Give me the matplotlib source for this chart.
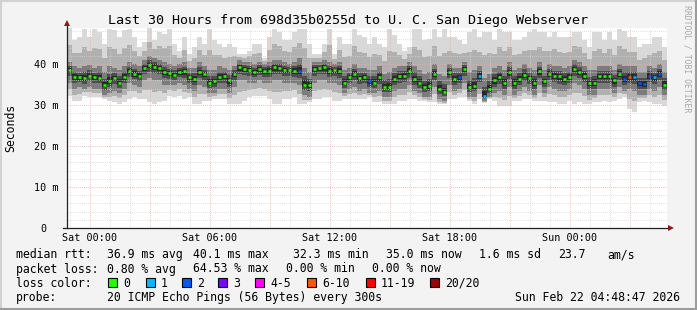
import numpy as np
import matplotlib
matplotlib.use('Agg')
import matplotlib.pyplot as plt
from matplotlib.patches import Rectangle
from matplotlib.lines import Line2D

W, H, DPI = 697, 310, 100
plt.rcParams['font.family'] = ['DejaVu Sans Mono']

# time in hours relative to Sat 00:00, 15 minute samples from Fri 22:51
t_start = -1.15
step = 0.25

median = [38.5, 36.8, 36.8, 36.5, 37.2, 36.8, 36.6, 34.9, 35.8, 36.6,
          35.5, 36.8, 38.2, 37.6, 37.2, 39.0, 39.8, 39.4, 39.0, 38.0,
          37.7, 37.4, 38.0, 38.2, 36.8, 36.4, 38.0, 37.6, 35.5, 35.8,
          36.8, 37.0, 36.0, 37.6, 39.2, 38.8, 38.5, 38.0, 38.8, 38.4,
          38.4, 39.2, 39.0, 38.5, 38.5, 38.4, 38.4, 35.0, 34.8, 38.8,
          39.0, 39.2, 38.4, 38.5, 38.4, 35.5, 36.8, 37.6, 36.6, 36.8,
          35.8, 35.5, 36.8, 34.5, 34.5, 36.4, 37.0, 37.2, 38.4, 36.4,
          35.5, 34.3, 34.7, 37.6, 34.0, 33.2, 38.0, 36.4, 36.8, 38.8,
          34.3, 34.7, 37.2, 32.3, 34.0, 36.0, 36.8, 35.5, 38.0, 35.5,
          36.4, 37.4, 36.6, 35.5, 38.2, 35.8, 37.6, 37.2, 37.0, 36.4,
          36.8, 38.8, 38.0, 37.2, 35.3, 35.5, 37.0, 37.0, 37.0, 36.0,
          37.6, 36.4, 36.8, 36.8, 35.3, 35.1, 37.2, 36.8, 37.6, 35.0]

ping_max = [48.8, 45.8, 46.6, 48.6, 46.6, 48.6, 47.8, 45.0, 48.6, 48.2,
            46.6, 48.2, 48.6, 46.6, 44.2, 45.4, 48.8, 45.8, 47.8, 47.4,
            48.6, 45.0, 43.2, 46.6, 42.4, 44.2, 46.6, 45.0, 48.6, 45.8,
            45.0, 44.2, 45.0, 44.2, 42.4, 42.4, 43.2, 45.0, 45.0, 41.6,
            46.6, 48.6, 47.8, 45.8, 45.8, 47.8, 48.6, 48.6, 45.0, 42.4,
            42.4, 45.0, 48.6, 42.4, 46.6, 45.0, 45.0, 48.6, 47.0, 46.6,
            45.0, 46.6, 45.0, 44.2, 48.6, 47.0, 45.0, 43.2, 44.2, 48.6,
            48.6, 45.8, 46.0, 48.6, 46.6, 48.6, 46.6, 46.6, 45.8, 45.0,
            47.8, 48.6, 46.6, 47.8, 47.8, 45.8, 48.6, 47.8, 47.8, 45.8,
            45.8, 46.6, 47.8, 48.6, 47.8, 47.8, 46.6, 47.8, 46.6, 46.6,
            46.6, 47.8, 47.8, 45.8, 44.2, 47.8, 47.8, 45.8, 47.8, 45.8,
            48.6, 48.0, 46.6, 46.6, 44.2, 45.0, 45.0, 46.6, 46.6, 44.2]

ping_min = [32.3, 31.1, 31.1, 32.3, 31.9, 31.9, 31.9, 31.5, 31.1, 30.7,
            30.2, 30.7, 31.5, 31.9, 31.5, 31.5, 30.7, 30.2, 30.7, 31.1,
            32.3, 31.9, 32.3, 31.5, 31.9, 30.2, 30.2, 31.1, 31.1, 31.5,
            31.5, 31.5, 30.2, 30.2, 30.2, 31.1, 31.9, 32.3, 32.3, 32.3,
            31.5, 30.2, 30.2, 31.5, 31.5, 31.9, 30.2, 30.2, 30.7, 31.5,
            31.5, 31.9, 31.9, 31.1, 31.1, 31.5, 31.5, 31.5, 31.5, 31.5,
            31.9, 30.7, 30.7, 30.2, 30.2, 30.2, 31.1, 31.1, 31.5, 31.5,
            31.1, 31.1, 30.7, 30.7, 30.2, 30.2, 31.5, 31.5, 31.9, 31.9,
            31.1, 30.2, 31.5, 30.5, 31.5, 31.1, 29.8, 29.8, 29.8, 31.1,
            31.1, 31.5, 31.5, 31.1, 31.1, 31.1, 30.7, 30.7, 30.2, 30.2,
            31.1, 30.2, 30.7, 30.2, 30.2, 30.7, 30.7, 31.1, 30.7, 31.1,
            31.5, 31.9, 29.0, 28.4, 30.7, 31.1, 30.7, 30.2, 30.2, 29.8]

# upper / lower quartile of the 20 pings
ping_q3 = [40.5, 39.5, 39.0, 39.5, 39.8, 39.0, 39.5, 38.0, 39.5, 39.0,
           38.5, 39.5, 40.5, 40.0, 39.5, 41.0, 42.0, 41.5, 41.0, 40.5,
           40.0, 39.5, 40.0, 40.5, 39.0, 39.0, 40.5, 39.5, 38.5, 38.5,
           39.5, 39.0, 38.5, 39.5, 41.0, 40.5, 40.5, 40.0, 40.5, 40.0,
           40.5, 41.0, 41.0, 40.5, 40.0, 40.5, 41.5, 39.0, 38.0, 40.5,
           40.5, 41.0, 40.5, 40.0, 40.5, 38.5, 39.0, 40.0, 39.0, 39.0,
           38.5, 38.5, 39.5, 37.5, 38.0, 39.0, 39.5, 39.5, 40.5, 39.5,
           38.5, 37.5, 38.0, 40.0, 37.5, 37.0, 40.0, 39.0, 39.0, 40.5,
           38.0, 38.5, 39.5, 36.5, 37.5, 39.0, 39.5, 38.5, 40.5, 38.5,
           39.0, 40.0, 39.0, 38.5, 40.5, 38.5, 40.0, 39.5, 39.5, 39.0,
           39.5, 41.0, 40.5, 39.5, 38.5, 38.5, 39.5, 39.5, 39.5, 38.5,
           40.0, 39.5, 39.5, 39.5, 38.0, 38.0, 39.5, 39.0, 40.0, 38.0]

ping_q1 = [35.5, 34.0, 34.5, 34.0, 34.5, 34.0, 34.0, 32.5, 33.0, 33.5,
           33.0, 34.0, 35.5, 35.0, 34.5, 36.0, 36.5, 36.0, 36.0, 35.0,
           35.0, 35.0, 35.5, 35.0, 34.0, 33.5, 35.0, 34.5, 33.0, 33.0,
           34.0, 34.0, 33.0, 34.5, 36.0, 36.0, 35.5, 35.5, 36.0, 35.5,
           35.5, 36.0, 36.0, 35.5, 35.5, 35.5, 35.0, 32.5, 32.0, 35.5,
           36.0, 36.0, 35.5, 35.5, 35.0, 33.0, 34.0, 34.5, 33.5, 34.0,
           33.0, 33.0, 33.5, 32.0, 32.0, 33.5, 34.0, 34.0, 35.0, 33.5,
           33.0, 32.0, 32.0, 34.5, 31.5, 31.0, 35.0, 33.5, 34.0, 35.5,
           32.0, 32.0, 34.0, 31.0, 32.0, 33.0, 33.5, 32.5, 34.5, 32.5,
           33.5, 34.5, 33.5, 32.5, 35.0, 33.0, 34.5, 34.0, 33.5, 33.5,
           34.0, 35.5, 35.0, 34.0, 32.5, 32.5, 34.0, 34.0, 34.0, 33.0,
           34.5, 33.5, 34.0, 33.5, 32.5, 32.5, 34.0, 33.5, 34.5, 32.5]

# loss class index per sample (0 = no loss, 1 = 1 lost, 2 = 2 lost, 5 = 6-10)
loss = [0, 0, 0, 0, 0, 0, 0, 0, 0, 0, 0, 0, 0, 0, 0, 0, 0, 0, 0, 0,
        0, 0, 0, 0, 0, 0, 0, 0, 0, 0, 0, 0, 0, 0, 0, 0, 0, 0, 0, 0,
        0, 0, 0, 0, 0, 0, 2, 0, 0, 0, 0, 0, 0, 0, 0, 0, 0, 0, 0, 0,
        2, 0, 0, 0, 0, 0, 0, 0, 0, 0, 0, 0, 0, 0, 0, 0, 0, 0, 2, 0,
        0, 0, 1, 1, 0, 0, 0, 0, 0, 0, 0, 0, 0, 0, 0, 0, 0, 0, 0, 0,
        0, 0, 0, 0, 0, 0, 0, 0, 0, 0, 0, 2, 5, 1, 2, 2, 2, 1, 2, 0]

loss_labels = ['0', '1', '2', '3', '4-5', '6-10', '11-19', '20/20']
loss_colors = ['#26ff00', '#00b8ff', '#0059ff', '#7e00ff',
               '#ff00ff', '#ff5500', '#ff0000', '#a10000']

x_tick_hours = [0, 6, 12, 18, 24]
x_tick_labels = ['Sat 00:00', 'Sat 06:00', 'Sat 12:00', 'Sat 18:00', 'Sun 00:00']
y_ticks = [0, 10, 20, 30, 40]
y_tick_labels = ['0  ', '10 m', '20 m', '30 m', '40 m']

title = 'Last 30 Hours from 698d35b0255d to U. C. San Diego Webserver'


def px(x, y):
    return x / W, 1 - y / H


fig = plt.figure(figsize=(W / DPI, H / DPI), dpi=DPI, facecolor='#f3f3f3')
ax = fig.add_axes([67 / W, (H - 228) / H, 600 / W, 200 / H])
ax.set_facecolor('white')

med = np.array(median)
hi = np.array(ping_max)
lo = np.array(ping_min)
q3 = np.maximum(np.array(ping_q3), med)
q1 = np.minimum(np.array(ping_q1), med)
edges = t_start + step * np.arange(len(med) + 1)


def ext(a):
    return np.append(a, a[-1])


# smoke, from the outer pings in to the ones next to the median
layers = [(lo, hi, '#d9d9d9'),
          ((lo + q1) / 2, (hi + q3) / 2, '#b0b0b0'),
          (q1, q3, '#7c7c7c'),
          ((q1 + med) / 2, (q3 + med) / 2, '#4d4d4d'),
          ((q1 + 3 * med) / 4, (q3 + 3 * med) / 4, '#2a2a2a')]
for a, b, c in layers:
    ax.fill_between(edges, ext(a), ext(b), step='post', color=c, lw=0, zorder=1)

seg = edges[1:] - edges[:-1]
ax.hlines(med, edges[:-1] + 0.1 * seg, edges[:-1] + 0.75 * seg,
          colors=[loss_colors[k] for k in loss], lw=1.8, zorder=4)

ax.set_xlim(t_start, t_start + 30)
ax.set_ylim(0, 48.8)
ax.set_xticks(np.arange(0, 29, 3))
ax.set_xticklabels([x_tick_labels[x_tick_hours.index(h)] if h in x_tick_hours else ''
                    for h in range(0, 29, 3)])
ax.set_xticks(np.arange(-1, 29, 1), minor=True)
ax.set_yticks(y_ticks)
ax.set_yticklabels(y_tick_labels)
ax.set_yticks(np.arange(0, 49, 2), minor=True)
ax.set_axisbelow(False)
ax.grid(which='minor', color='#d4d4d4', ls=(0, (1, 1.5)), lw=0.6)
ax.grid(which='major', color='#eeaaaa', ls=(0, (1, 1.5)), lw=0.6)
ax.tick_params(which='both', length=0, labelsize=7.3, colors='#000000')
ax.tick_params(axis='x', pad=3.5)
ax.tick_params(axis='y', pad=5.8)

for s in ['top', 'right', 'left', 'bottom']:
    ax.spines[s].set_visible(False)
ax.plot([-0.006, 1.004], [0, 0], transform=ax.transAxes, color='#202020',
        lw=0.9, clip_on=False, zorder=6)
ax.plot([0, 0], [0, 1.015], transform=ax.transAxes, color='#202020',
        lw=0.9, clip_on=False, zorder=6)
ax.plot([1.007], [0], marker='>', ms=4.5, color='#8b1a1a', mew=0,
        transform=ax.transAxes, clip_on=False, zorder=7)
ax.plot([0], [1.025], marker='^', ms=4.5, color='#8b1a1a', mew=0,
        transform=ax.transAxes, clip_on=False, zorder=7)

fig.text(*px(348.5, 24), title, ha='center', va='baseline', fontsize=9.6)
fig.text(*px(11, 128), 'Seconds', rotation=90, ha='center', va='center', fontsize=8.3)
fig.text(*px(687.5, 59), 'RRDTOOL / TOBI OETIKER', rotation=270, ha='center',
         va='center', fontsize=5.9, color='#a8a8a8')

fs = 8.3
rows = [
    (258.4, [(16, 'median rtt:'), (107, '36.9 ms avg'), (193, '40.1 ms max'),
             (293, '32.3 ms min'), (386, '35.0 ms now'), (479, '1.6 ms sd'),
             (558, '23.7'), (607, 'am/s')]),
    (272.5, [(16, 'packet loss:'), (107, '0.80 % avg'), (193, '64.53 % max'),
             (286, '0.00 % min'), (372, '0.00 % now')]),
    (286.6, [(16, 'loss color:')]),
    (300.7, [(16, 'probe:'), (107, '20 ICMP Echo Pings (56 Bytes) every 300s')]),
]
for yb, items in rows:
    for xl, s in items:
        fig.text(*px(xl, yb), s, ha='left', va='baseline', fontsize=fs)
fig.text(*px(680, 300.7), 'Sun Feb 22 04:48:47 2026', ha='right', va='baseline', fontsize=fs)

box_x = [108, 146, 182, 218, 255, 307, 366, 430]
for bx, lab, col in zip(box_x, loss_labels, loss_colors):
    fig.patches.append(Rectangle(px(bx, 286.6), 9 / W, 9 / H, transform=fig.transFigure,
                                 facecolor=col, edgecolor='black', lw=0.8))
    fig.text(*px(bx + 15, 286.6), lab, ha='left', va='baseline', fontsize=fs)

# frame around the image
fig.add_artist(Line2D([0, 1], [1 - 1 / H, 1 - 1 / H], color='#d2d2d2', lw=1.5))
fig.add_artist(Line2D([1 / W, 1 / W], [0, 1], color='#d2d2d2', lw=1.5))
fig.add_artist(Line2D([0, 1], [1 / H, 1 / H], color='#9c9c9c', lw=1.5))
fig.add_artist(Line2D([1 - 1 / W, 1 - 1 / W], [0, 1], color='#9c9c9c', lw=1.5))

fig.savefig('out.png', dpi=DPI, facecolor=fig.get_facecolor())
